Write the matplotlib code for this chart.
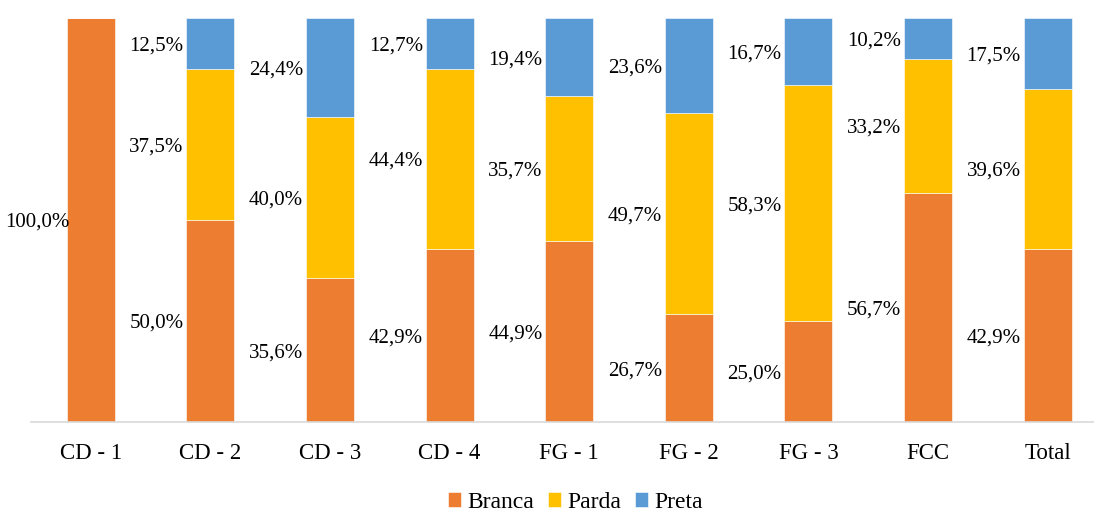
#!/usr/bin/env python3
"""Distribuição por cor/raça em cada grupo (barras empilhadas 100%)"""

import numpy as np
import matplotlib
matplotlib.use("Agg")
import matplotlib.pyplot as plt

grupos = ["CD - 1", "CD - 2", "CD - 3", "CD - 4", "FG - 1", "FG - 2", "FG - 3", "FCC", "Total"]
branca = [100.0, 50.0, 35.6, 42.9, 44.9, 26.7, 25.0, 56.7, 42.9]
parda = [0.0, 37.5, 40.0, 44.4, 35.7, 49.7, 58.3, 33.2, 39.6]
preta = [0.0, 12.5, 24.4, 12.7, 19.4, 23.6, 16.7, 10.2, 17.5]

series = [("Branca", branca, "#ED7D31"),
          ("Parda", parda, "#FFC000"),
          ("Preta", preta, "#5B9BD5")]

plt.rcParams["font.family"] = ["Liberation Serif", "DejaVu Serif"]

fig = plt.figure(figsize=(10.94, 5.11), dpi=100)
# o eixo vai até a borda direita da figura, como no original
ax = fig.add_axes([31 / 1094, 89 / 511, 1063 / 1094, 404 / 511])

x = np.arange(len(grupos))
base = np.zeros(len(grupos))
for nome, vals, cor in series:
    vals = np.array(vals)
    ax.bar(x, vals, width=0.4, bottom=base, color=cor, label=nome,
           edgecolor="white", linewidth=0.4)
    for xi, b, v in zip(x, base, vals):
        if v > 0:
            ax.text(xi - 0.45, b + v / 2, f"{v:.1f}%".replace(".", ","),
                    ha="center", va="center_baseline", fontsize=15)
    base += vals

ax.set_xlim(-0.5, -0.5 + 1063 / 119.6)
ax.set_ylim(0, 100)
ax.set_yticks([])
for s in ["top", "right", "left"]:
    ax.spines[s].set_visible(False)
ax.spines["bottom"].set_color("#D9D9D9")
ax.spines["bottom"].set_linewidth(1.2)
ax.set_xticks(x)
ax.set_xticklabels(grupos, fontsize=16.5)
ax.tick_params(axis="x", length=0, pad=15)

fig.legend(loc="lower center", bbox_to_anchor=(0.526, -0.045), ncol=3, frameon=False,
           fontsize=17, handlelength=0.55, handleheight=0.55, handletextpad=0.25,
           columnspacing=0.6)

fig.savefig("out.png", dpi=100)
